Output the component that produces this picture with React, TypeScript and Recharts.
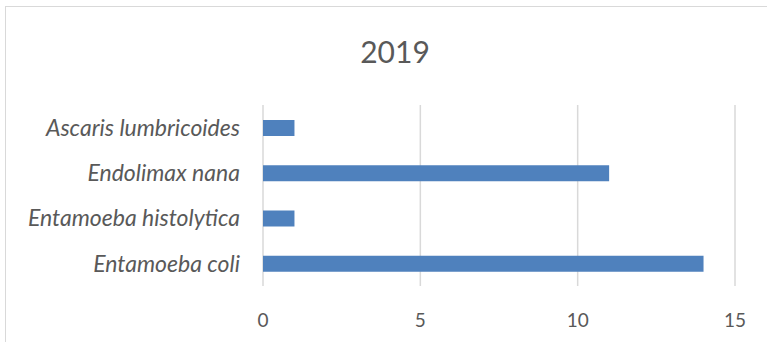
import React from "react";
import { BarChart, Bar, XAxis, YAxis, CartesianGrid } from "recharts";

const categories = ["Ascaris lumbricoides", "Endolimax nana", "Entamoeba histolytica", "Entamoeba coli"];
const values = [1, 11, 1, 14];
const xTicks = [0, 5, 10, 15];
const title = "2019";

const data = categories.map((name, i) => ({ name, value: values[i] }));

const FONT = "Lato, 'Liberation Sans', sans-serif";

export default function App() {
  return (
    <div style={{ position: "fixed", left: 0, top: 0, width: 767, height: 342, overflow: "hidden", background: "#fff" }}>
      <div style={{ position: "absolute", left: 5, top: 6, width: 900, height: 500, border: "1px solid #d9d9d9", boxSizing: "border-box" }} />
      <div style={{ position: "absolute", left: 0, top: 33, width: 790, textAlign: "center", fontFamily: FONT, fontSize: 30, color: "#595959" }}>{title}</div>
      <div style={{ position: "absolute", left: 0, top: 0 }}>
        <BarChart
          width={767}
          height={342}
          data={data}
          layout="vertical"
          margin={{ top: 105, right: 32, bottom: 26, left: 0 }}
        >
          <CartesianGrid horizontal={false} vertical={true} stroke="#d9d9d9" strokeWidth={1.5} />
          <XAxis
            type="number"
            domain={[0, 15]}
            ticks={xTicks}
            axisLine={false}
            tickLine={false}
            tickMargin={22}
            tick={{ fill: "#595959", fontSize: 19, fontFamily: FONT }}
          />
          <YAxis
            type="category"
            dataKey="name"
            width={263}
            axisLine={false}
            tickLine={false}
            tickMargin={17}
            tick={{ fill: "#595959", fontSize: 23, fontFamily: FONT, fontStyle: "italic" }}
          />
          <Bar dataKey="value" fill="#4f81bd" barSize={16} isAnimationActive={false} />
        </BarChart>
      </div>
    </div>
  );
}
